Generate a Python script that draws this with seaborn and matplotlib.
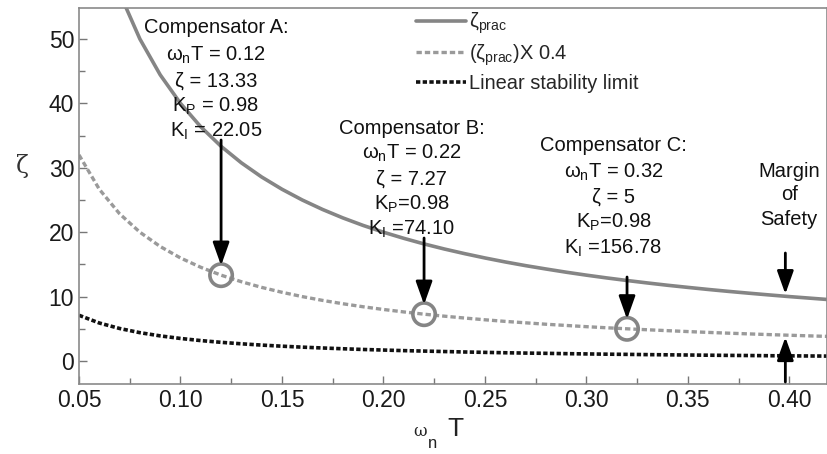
import matplotlib
matplotlib.use("Agg")
import matplotlib.pyplot as plt
from matplotlib.patches import ArrowStyle
import seaborn as sns
import numpy as np

# ---------------- data ----------------
wnT = [0.05, 0.06, 0.07, 0.08, 0.09, 0.10, 0.11, 0.12, 0.13, 0.14, 0.15, 0.16,
       0.17, 0.18, 0.19, 0.20, 0.21, 0.22, 0.23, 0.24, 0.25, 0.26, 0.27, 0.28,
       0.29, 0.30, 0.31, 0.32, 0.33, 0.34, 0.35, 0.36, 0.37, 0.38, 0.39, 0.40,
       0.41, 0.42]
zeta_prac = [80.0, 66.67, 57.14, 50.0, 44.44, 40.0, 36.36, 33.33, 30.77, 28.57,
             26.67, 25.0, 23.53, 22.22, 21.05, 20.0, 19.05, 18.18, 17.39, 16.67,
             16.0, 15.38, 14.81, 14.29, 13.79, 13.33, 12.90, 12.5, 12.12, 11.76,
             11.43, 11.11, 10.81, 10.53, 10.26, 10.0, 9.76, 9.52]
zeta_scaled = [32.0, 26.67, 22.86, 20.0, 17.78, 16.0, 14.55, 13.33, 12.31, 11.43,
               10.67, 10.0, 9.41, 8.89, 8.42, 8.0, 7.62, 7.27, 6.96, 6.67, 6.4,
               6.15, 5.93, 5.71, 5.52, 5.33, 5.16, 5.0, 4.85, 4.71, 4.57, 4.44,
               4.32, 4.21, 4.10, 4.0, 3.90, 3.81]
linear_limit = [7.1, 5.9, 5.05, 4.4, 3.9, 3.5, 3.17, 2.9, 2.67, 2.47, 2.3, 2.15,
                2.02, 1.9, 1.79, 1.7, 1.61, 1.54, 1.47, 1.4, 1.34, 1.28, 1.23,
                1.19, 1.14, 1.1, 1.06, 1.03, 0.99, 0.96, 0.93, 0.9, 0.87, 0.85,
                0.82, 0.8, 0.78, 0.76]

comp_names = ["A", "B", "C"]
comp_wnT = [0.12, 0.22, 0.32]
comp_zeta = [13.33, 7.27, 5]
comp_KP = ["0.98", "0.98", "0.98"]
comp_KI = ["22.05", "74.10", "156.78"]
comp_zeta_txt = ["13.33", "7.27", "5"]

legend_labels = ["ζ$_{\\mathregular{prac}}$", "(ζ$_{\\mathregular{prac}}$)X 0.4",
                 "Linear stability limit"]
x_ticks = [0.05, 0.10, 0.15, 0.20, 0.25, 0.30, 0.35, 0.40]
y_ticks = [0, 10, 20, 30, 40, 50]

# ---------------- style ----------------
sns.set_theme(style="ticks")
plt.rcParams["font.family"] = ["Liberation Sans", "DejaVu Sans"]
plt.rcParams["mathtext.fontset"] = "custom"
plt.rcParams["mathtext.rm"] = "Liberation Sans"
plt.rcParams["mathtext.it"] = "Liberation Sans:italic"

fig = plt.figure(figsize=(8.28, 4.54), dpi=100)
ax = fig.add_axes([79 / 828, 1 - 384 / 454, 1 - 79 / 828 - 0.001, (384 - 8) / 454])

# px -> data helpers (for annotation placement only)
def dx(px):
    return 0.05 + (px - 79) / 2032.0

def dy(py):
    return (361 - py) / 6.44

sns.lineplot(x=wnT, y=zeta_prac, ax=ax, color="#858585", lw=2.6,
             label=legend_labels[0])
sns.lineplot(x=wnT, y=zeta_scaled, ax=ax, color="#9a9a9a", lw=2.4,
             linestyle=(0, (1.6, 0.9)), label=legend_labels[1])
sns.lineplot(x=wnT, y=linear_limit, ax=ax, color="#111111", lw=2.6,
             linestyle=(0, (1.2, 0.65)), label=legend_labels[2])

sns.scatterplot(x=comp_wnT, y=comp_zeta, ax=ax, s=260, facecolor="none",
                edgecolor="#858585", linewidth=2.6, zorder=5, legend=False)

ax.set_xlim(0.05, 0.05 + 749 / 2032.0)
ax.set_ylim(dy(384), dy(8))
ax.set_xticks(x_ticks)
ax.set_xticklabels([f"{v:.2f}" for v in x_ticks])
ax.set_yticks(y_ticks)
ax.set_xticks([0.075 + 0.05 * i for i in range(7)], minor=True)
ax.set_yticks([5, 15, 25, 35, 45], minor=True)
ax.tick_params(which="both", direction="in", colors="#777777",
               labelcolor="#1a1a1a", labelsize=16.5)
ax.tick_params(which="major", length=6, width=1)
ax.tick_params(which="minor", length=4, width=1)
for s in ax.spines.values():
    s.set_color("#8a8a8a")
    s.set_linewidth(1.2)

ax.set_xlabel("")
ax.set_ylabel("ζ", rotation=0, fontsize=17, family="DejaVu Serif",
              color="#333333")
ax.yaxis.set_label_coords((22 - 79) / 749, (384 - 178) / 376)

# x label pieces: ω n T
fig.text(420 / 828, 1 - 431 / 454, "ω", fontsize=12, family="DejaVu Serif",
         ha="center", va="center", color="#222222")
fig.text(433 / 828, 1 - 444 / 454, "n", fontsize=12, ha="center",
         va="center", color="#222222")
fig.text(455 / 828, 1 - 429 / 454, "T", fontsize=19, ha="center",
         va="center", color="#222222")

leg = ax.legend(loc="upper left", bbox_to_anchor=(0.435, 1.025), frameon=False,
                fontsize=14.4, handlelength=2.5, labelspacing=0.3,
                handletextpad=0.15, borderaxespad=0.2)

# compensator annotations
blocks = [
    (216, [27, 55, 81, 106, 131]),
    (412, [128, 153, 179, 204, 229]),
    (614, [145, 172, 197, 222, 248]),
]
for i, (cx, ys) in enumerate(blocks):
    if i == 0:
        kp = f"K$_{{\\mathregular{{P}}}}$ = {comp_KP[i]}"
        ki = f"K$_{{\\mathregular{{I}}}}$ = {comp_KI[i]}"
    else:
        kp = f"K$_{{\\mathregular{{P}}}}$={comp_KP[i]}"
        ki = f"K$_{{\\mathregular{{I}}}}$ ={comp_KI[i]}"
    lines = [f"Compensator {comp_names[i]}:",
             f"ω$_{{\\mathregular{{n}}}}$T = {comp_wnT[i]:.2f}",
             f"ζ = {comp_zeta_txt[i]}", kp, ki]
    for t, py in zip(lines, ys):
        ax.text(dx(cx), dy(py), t, ha="center", va="center", fontsize=14.5,
                color="#111111")

arrow = ArrowStyle("-|>", head_length=1.4, head_width=0.5)
arrows = [
    ((0.12, dy(140)), (0.12, comp_zeta[0] + 1.5)),
    ((0.22, dy(238)), (0.22, comp_zeta[1] + 1.5)),
    ((0.32, dy(277)), (0.32, comp_zeta[2] + 1.5)),
    ((0.398, dy(253)), (0.398, 10.4)),
    ((0.398, dy(382)), (0.398, 3.7)),
]
for start, end in arrows:
    ax.annotate("", xy=end, xytext=start,
                arrowprops=dict(arrowstyle=arrow, color="black", lw=2,
                                shrinkA=0, shrinkB=0, mutation_scale=10),
                zorder=6)

for t, py in zip(["Margin", "of", "Safety"], [171, 195, 219]):
    ax.text(dx(790), dy(py), t, ha="center", va="center", fontsize=14.5,
            color="#111111")

fig.savefig("out.png", dpi=100)
